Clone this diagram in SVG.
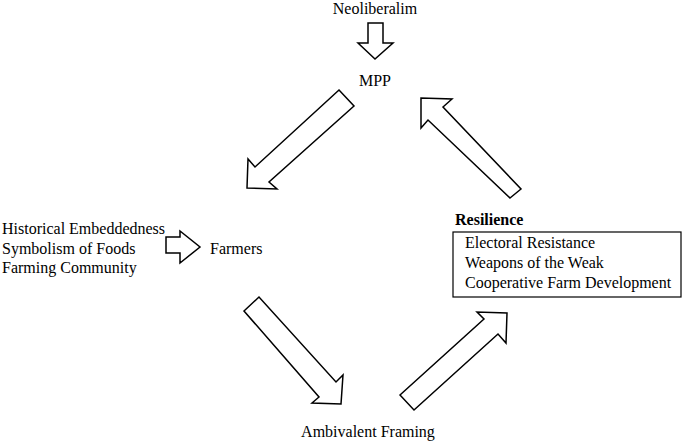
<svg xmlns="http://www.w3.org/2000/svg" width="685" height="441" viewBox="0 0 685 441">
<style>
text{font-family:"Liberation Serif","Times New Roman",serif;font-size:16px;fill:#000}
.b{font-weight:bold}
.arrow{fill:#fff;stroke:#000;stroke-width:1.5;stroke-linejoin:miter}
</style>
<rect width="685" height="441" fill="#fff"/>
<g id="neoliberalism"><text x="375" y="14" text-anchor="middle">Neoliberalim</text></g>
<g id="mpp"><text x="375" y="86" text-anchor="middle">MPP</text></g>
<g id="factors">
<text x="2" y="234">Historical Embeddedness</text>
<text x="2" y="254">Symbolism of Foods</text>
<text x="2" y="273">Farming Community</text>
</g>
<g id="farmers"><text x="210" y="254">Farmers</text></g>
<g id="resilience">
<text class="b" x="455" y="225">Resilience</text>
<rect x="453" y="232" width="228" height="65" fill="none" stroke="#000" stroke-width="1.2"/>
<text x="465" y="248">Electoral Resistance</text>
<text x="465" y="268">Weapons of the Weak</text>
<text x="465" y="288">Cooperative Farm Development</text>
</g>
<g id="ambivalent"><text x="368" y="437" text-anchor="middle">Ambivalent Framing</text></g>
<g id="connectors">
<polygon class="arrow" points="368,23 383,23 383,43 393,43 375,59 358,43 368,43"/>
<polygon class="arrow" points="339,90 354,106 269,182 277,189 247,188 248,159 255,167"/>
<polygon class="arrow" points="510,198 521,189 443,107 452,99 421,98 421,128 428,120"/>
<polygon class="arrow" points="166,237 180,237 180,231 200,247 180,263 180,253 166,253"/>
<polygon class="arrow" points="259,297 244,311 319,397 312,403 341,404 343,375 336,382"/>
<polygon class="arrow" points="400,395 414,410 498,334 506,343 507,313 477,312 484,319"/>
</g>
</svg>
